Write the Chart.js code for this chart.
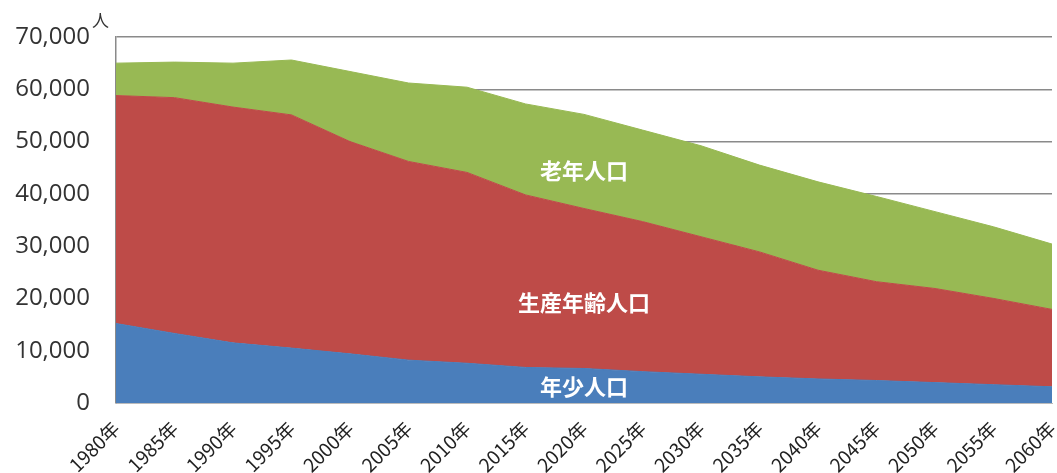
<!DOCTYPE html>
<html lang="ja">
<head>
<meta charset="UTF-8">
<title>人口の推移</title>
<script src="https://cdn.jsdelivr.net/npm/chart.js"></script>
<style>
  body { margin: 0; background: #fff; }
  canvas { display: block; }
</style>
</head>
<body>
<canvas id="popChart" width="1057" height="473"></canvas>
<script>
const years = ['1980年', '1985年', '1990年', '1995年', '2000年', '2005年', '2010年', '2015年', '2020年',
  '2025年', '2030年', '2035年', '2040年', '2045年', '2050年', '2055年', '2060年'];
const youngPop = [15200, 13300, 11500, 10500, 9400, 8200, 7600, 6800, 6600, 6000, 5500, 5000, 4600, 4300, 3900, 3500, 3100];
const workingPop = [43600, 45100, 45100, 44600, 40600, 38000, 36500, 33000, 30600, 28700, 26300, 23900, 20800, 18900, 18000, 16500, 14800];
const elderlyPop = [6200, 6800, 8400, 10500, 13400, 15000, 16300, 17400, 18000, 17500, 17400, 16600, 16900, 16300, 14700, 13700, 12500];
const yTicks = [0, 10000, 20000, 30000, 40000, 50000, 60000, 70000];

// area names drawn inside the chart, at the 2020 column
const areaLabels = [
  { text: '老年人口', index: 8, value: 44500 },
  { text: '生産年齢人口', index: 8, value: 19100 },
  { text: '年少人口', index: 8, value: 3200 }
];

const labelPlugin = {
  id: 'labels',
  afterDatasetsDraw(chart) {
    const c = chart.ctx;
    const xs = chart.scales.x, ys = chart.scales.y;
    c.save();
    c.fillStyle = '#fff';
    c.font = 'bold 22px "Noto Sans CJK JP"';
    c.textAlign = 'center';
    c.textBaseline = 'middle';
    areaLabels.forEach(l => {
      c.fillText(l.text, xs.getPixelForValue(l.index), ys.getPixelForValue(l.value));
    });
    // unit
    c.fillStyle = '#333';
    c.font = '17px "Noto Sans CJK JP"';
    c.textAlign = 'left';
    c.fillText('人', chart.chartArea.left - 24, chart.chartArea.top - 16);
    c.restore();
  }
};

const ctx = document.getElementById('popChart').getContext('2d');
new Chart(ctx, {
  type: 'line',
  data: {
    labels: years,
    datasets: [
      { label: '年少人口', data: youngPop, backgroundColor: '#4a7ebb', borderColor: '#4a7ebb', fill: 'origin' },
      { label: '生産年齢人口', data: workingPop, backgroundColor: '#be4b48', borderColor: '#be4b48', fill: '-1' },
      { label: '老年人口', data: elderlyPop, backgroundColor: '#98b954', borderColor: '#98b954', fill: '-1' }
    ]
  },
  options: {
    responsive: false,
    animation: false,
    layout: { padding: { top: 37, right: 5, left: 0, bottom: 0 } },
    elements: {
      point: { radius: 0 },
      line: { borderWidth: 1, tension: 0 }
    },
    plugins: {
      legend: { display: false },
      tooltip: { enabled: false }
    },
    scales: {
      x: {
        offset: false,
        grid: { display: false },
        border: { color: '#bbb', width: 1 },
        ticks: {
          autoSkip: false,
          minRotation: 45,
          maxRotation: 45,
          color: '#222',
          padding: 6,
          font: { family: '"Noto Sans CJK JP"', size: 19 }
        },
        afterFit(scale) {
          scale.height = 70;
          scale.paddingRight = 0;
          scale.paddingLeft = 0;
        }
      },
      y: {
        stacked: true,
        min: 0,
        max: 70000,
        afterBuildTicks(scale) { scale.ticks = yTicks.map(v => ({ value: v })); },
        grid: { color: '#8a8a8a', lineWidth: 1.5, drawTicks: false },
        border: { color: '#8a8a8a', width: 1.5 },
        ticks: {
          color: '#333',
          padding: 26,
          font: { family: '"Open Sans"', size: 24 },
          callback: v => v.toLocaleString('en-US')
        },
        afterFit(scale) {
          scale.width = 116;
          scale.paddingTop = 0;
          scale.paddingBottom = 0;
        }
      }
    }
  },
  plugins: [labelPlugin]
});
</script>
</body>
</html>
